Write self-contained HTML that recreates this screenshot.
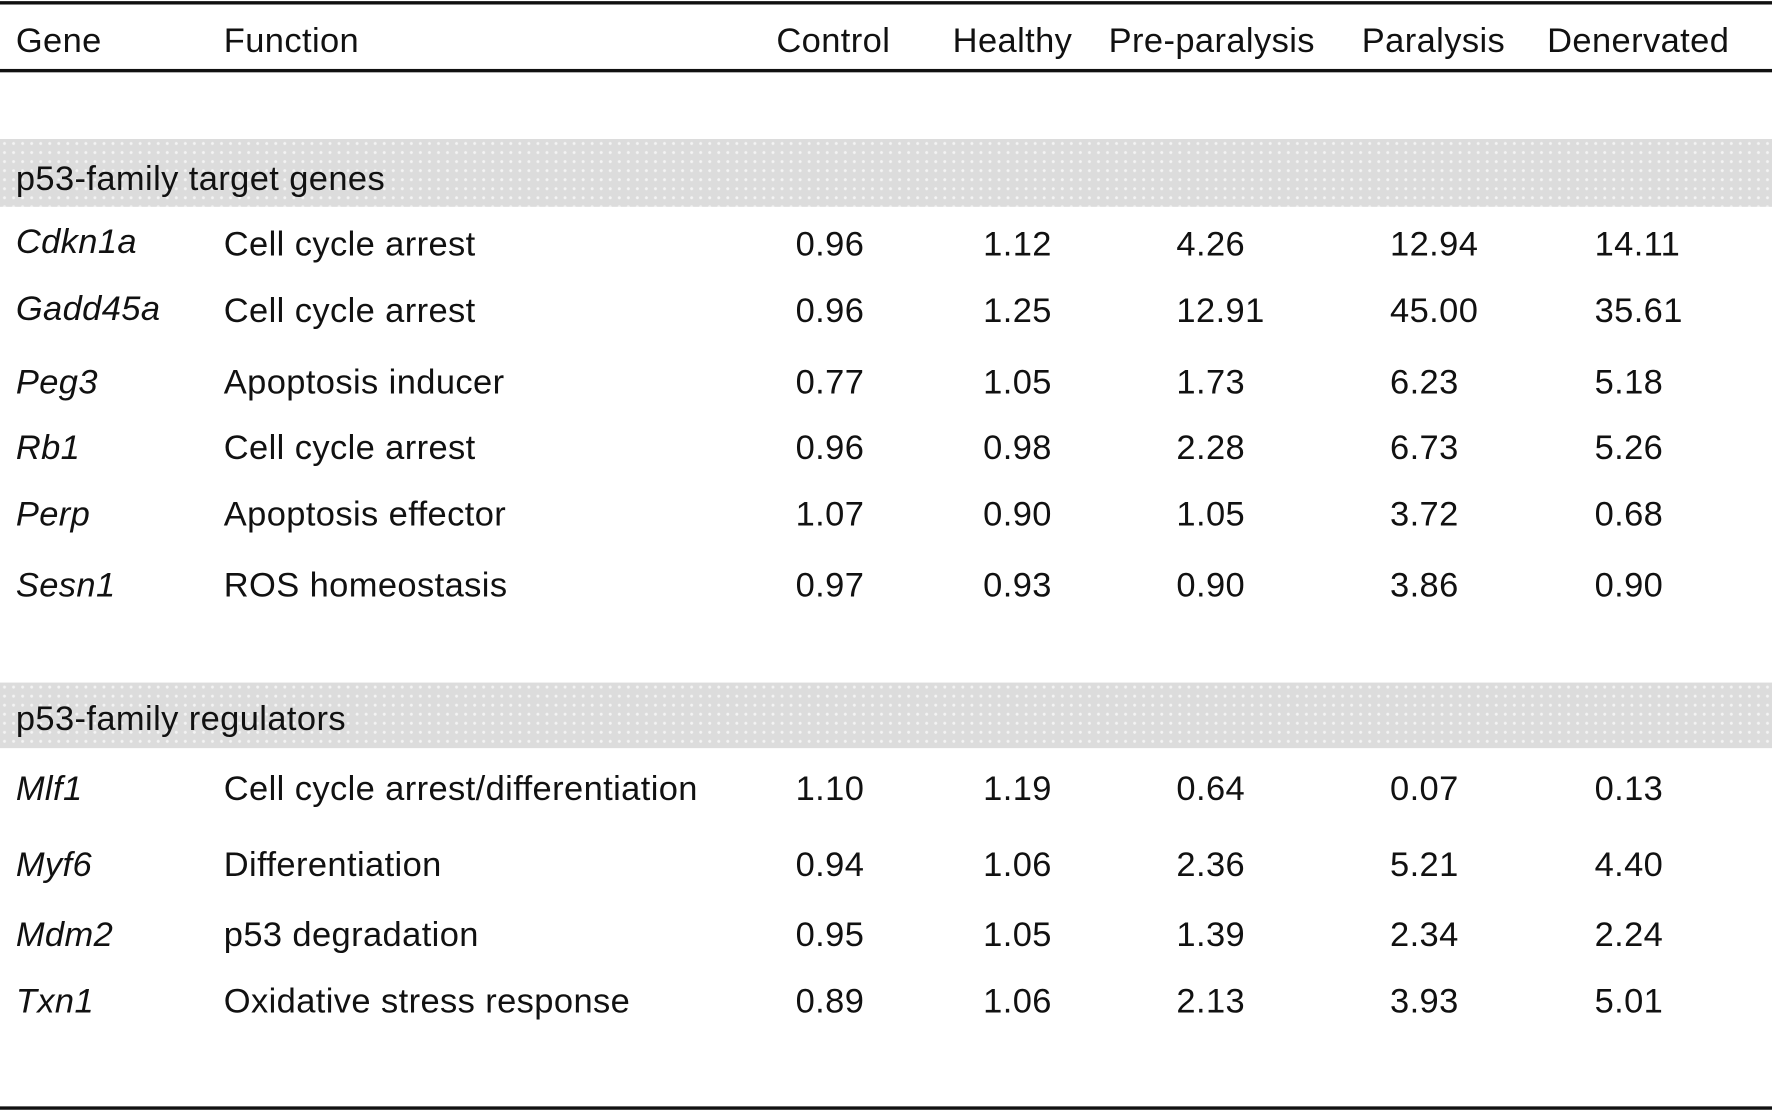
<!DOCTYPE html>
<html><head><meta charset="utf-8"><style>
html,body{margin:0;padding:0;background:#fff;}
body{width:1772px;height:1112px;overflow:hidden;position:relative;}
#c{position:absolute;left:0;top:0;width:1568px;height:984px;transform:scale(1.13010);transform-origin:0 0;font-family:"Liberation Sans",Arial,sans-serif;font-size:30.5px;color:#111;letter-spacing:0.35px;}
.r{position:absolute;left:0;width:1568px;background:#111;}
.b{position:absolute;left:0;width:1568px;background-color:#dcdcdc;background-image:radial-gradient(circle,#f4f4f4 1px,transparent 1.6px);background-size:8px 8px;}
.t{position:absolute;line-height:34px;height:34px;white-space:nowrap;margin-top:1px;}
.i{font-style:italic;}
</style></head><body><div id="c">
<div class="r" style="top:1px;height:3px"></div>
<div class="r" style="top:61px;height:3px"></div>
<div class="r" style="top:979px;height:3px"></div>
<div class="b" style="top:123px;height:60px"></div>
<div class="b" style="top:604px;height:58px"></div>

<div class="t" style="left:14px;top:18px">Gene</div>
<div class="t" style="left:198px;top:18px">Function</div>
<div class="t" style="left:687px;top:18px">Control</div>
<div class="t" style="left:843px;top:18px">Healthy</div>
<div class="t" style="left:981px;top:18px">Pre-paralysis</div>
<div class="t" style="left:1205px;top:18px">Paralysis</div>
<div class="t" style="left:1369px;top:18px">Denervated</div>

<div class="t" style="left:14px;top:140px">p53-family target genes</div>
<div class="t" style="left:14px;top:618px">p53-family regulators</div>

<div class="t i" style="left:14px;top:196px">Cdkn1a</div><div class="t" style="left:198px;top:198px">Cell cycle arrest</div>
<div class="t" style="left:704px;top:198px">0.96</div><div class="t" style="left:870px;top:198px">1.12</div><div class="t" style="left:1041px;top:198px">4.26</div><div class="t" style="left:1230px;top:198px">12.94</div><div class="t" style="left:1411px;top:198px">14.11</div>

<div class="t i" style="left:14px;top:255px">Gadd45a</div><div class="t" style="left:198px;top:257px">Cell cycle arrest</div>
<div class="t" style="left:704px;top:257px">0.96</div><div class="t" style="left:870px;top:257px">1.25</div><div class="t" style="left:1041px;top:257px">12.91</div><div class="t" style="left:1230px;top:257px">45.00</div><div class="t" style="left:1411px;top:257px">35.61</div>

<div class="t i" style="left:14px;top:320px">Peg3</div><div class="t" style="left:198px;top:320px">Apoptosis inducer</div>
<div class="t" style="left:704px;top:320px">0.77</div><div class="t" style="left:870px;top:320px">1.05</div><div class="t" style="left:1041px;top:320px">1.73</div><div class="t" style="left:1230px;top:320px">6.23</div><div class="t" style="left:1411px;top:320px">5.18</div>

<div class="t i" style="left:14px;top:378px">Rb1</div><div class="t" style="left:198px;top:378px">Cell cycle arrest</div>
<div class="t" style="left:704px;top:378px">0.96</div><div class="t" style="left:870px;top:378px">0.98</div><div class="t" style="left:1041px;top:378px">2.28</div><div class="t" style="left:1230px;top:378px">6.73</div><div class="t" style="left:1411px;top:378px">5.26</div>

<div class="t i" style="left:14px;top:437px">Perp</div><div class="t" style="left:198px;top:437px">Apoptosis effector</div>
<div class="t" style="left:704px;top:437px">1.07</div><div class="t" style="left:870px;top:437px">0.90</div><div class="t" style="left:1041px;top:437px">1.05</div><div class="t" style="left:1230px;top:437px">3.72</div><div class="t" style="left:1411px;top:437px">0.68</div>

<div class="t i" style="left:14px;top:500px">Sesn1</div><div class="t" style="left:198px;top:500px">ROS homeostasis</div>
<div class="t" style="left:704px;top:500px">0.97</div><div class="t" style="left:870px;top:500px">0.93</div><div class="t" style="left:1041px;top:500px">0.90</div><div class="t" style="left:1230px;top:500px">3.86</div><div class="t" style="left:1411px;top:500px">0.90</div>

<div class="t i" style="left:14px;top:680px">Mlf1</div><div class="t" style="left:198px;top:680px">Cell cycle arrest/differentiation</div>
<div class="t" style="left:704px;top:680px">1.10</div><div class="t" style="left:870px;top:680px">1.19</div><div class="t" style="left:1041px;top:680px">0.64</div><div class="t" style="left:1230px;top:680px">0.07</div><div class="t" style="left:1411px;top:680px">0.13</div>

<div class="t i" style="left:14px;top:747px">Myf6</div><div class="t" style="left:198px;top:747px">Differentiation</div>
<div class="t" style="left:704px;top:747px">0.94</div><div class="t" style="left:870px;top:747px">1.06</div><div class="t" style="left:1041px;top:747px">2.36</div><div class="t" style="left:1230px;top:747px">5.21</div><div class="t" style="left:1411px;top:747px">4.40</div>

<div class="t i" style="left:14px;top:809px">Mdm2</div><div class="t" style="left:198px;top:809px">p53 degradation</div>
<div class="t" style="left:704px;top:809px">0.95</div><div class="t" style="left:870px;top:809px">1.05</div><div class="t" style="left:1041px;top:809px">1.39</div><div class="t" style="left:1230px;top:809px">2.34</div><div class="t" style="left:1411px;top:809px">2.24</div>

<div class="t i" style="left:14px;top:868px">Txn1</div><div class="t" style="left:198px;top:868px">Oxidative stress response</div>
<div class="t" style="left:704px;top:868px">0.89</div><div class="t" style="left:870px;top:868px">1.06</div><div class="t" style="left:1041px;top:868px">2.13</div><div class="t" style="left:1230px;top:868px">3.93</div><div class="t" style="left:1411px;top:868px">5.01</div>
</div></body></html>
